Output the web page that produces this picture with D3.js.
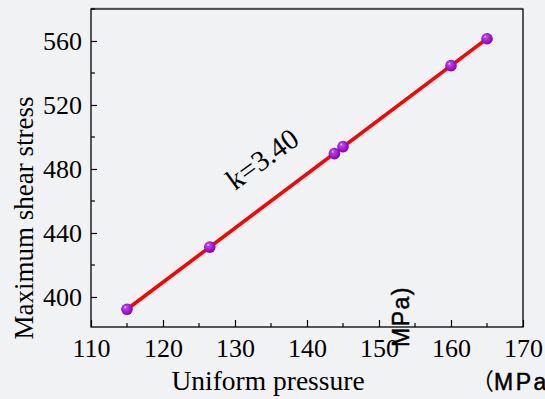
<!DOCTYPE html>
<html>
<head>
<meta charset="utf-8">
<script src="https://cdn.jsdelivr.net/npm/d3@7"></script>
<style>
  html, body { margin: 0; padding: 0; background: #f1f2f4; }
  svg { display: block; }
</style>
</head>
<body>
<svg id="chart" width="545" height="399"></svg>
<script>
// Measured points: uniform pressure (MPa) vs maximum shear stress (MPa)
const pressure = [115, 126.5, 143.8, 145, 160, 165];
const shearStress = [392.3, 431.2, 489.6, 494.0, 544.6, 561.4];

const xTicks = [110, 120, 130, 140, 150, 160, 170];
const xMinorTicks = [115, 125, 135, 145, 155, 165];
const yTicks = [400, 440, 480, 520, 560];
const yMinorTicks = [420, 460, 500, 540, 580];

const slopeLabel = "k=3.40";
const xTitle = "Uniform pressure";
const yTitle = "Maximum shear stress";
const unitOpen = "（";
const unitText = "MPa";
const unitClose = ")";

(function () {
  const svg = d3.select("#chart");
  const serif = "'Liberation Serif', 'Times New Roman', serif";
  const sans = "Arial, 'Liberation Sans', sans-serif";
  const cjk = "'Noto Sans CJK SC', sans-serif";

  const plotL = 91, plotR = 523, plotT = 9, plotB = 327;
  const x = d3.scaleLinear().domain([110, 170]).range([plotL, plotR]);
  const y = d3.scaleLinear().domain([381.25, 580]).range([plotB, plotT]);

  // sphere-like marker fill
  const defs = svg.append("defs");
  const grad = defs.append("radialGradient")
    .attr("id", "ball").attr("cx", "0.45").attr("cy", "0.45").attr("r", "0.6")
    .attr("fx", "0.35").attr("fy", "0.3");
  grad.append("stop").attr("offset", "0%").attr("stop-color", "#f8e6ff");
  grad.append("stop").attr("offset", "22%").attr("stop-color", "#bf3cf0");
  grad.append("stop").attr("offset", "70%").attr("stop-color", "#9c10d0");
  grad.append("stop").attr("offset", "100%").attr("stop-color", "#72089c");

  // faint rule above the frame
  svg.append("line")
    .attr("x1", plotL).attr("x2", plotR).attr("y1", plotT - 1.2).attr("y2", plotT - 1.2)
    .attr("stroke", "#c8c9cc").attr("stroke-width", 1);

  // x axis (ticks pointing inward)
  const xAxis = svg.append("g")
    .attr("transform", `translate(0,${plotB})`)
    .call(d3.axisBottom(x).tickValues(xTicks).tickSizeInner(-7).tickSizeOuter(0).tickFormat(d3.format("d")));
  xAxis.select(".domain").remove();
  xAxis.selectAll(".tick line").attr("stroke", "#000").attr("stroke-width", 1.2);
  xAxis.selectAll(".tick text")
    .attr("y", 30).attr("dy", 0)
    .attr("font-family", serif).attr("font-size", 26).attr("fill", "#000");
  xAxis.selectAll(".minor").data(xMinorTicks).enter().append("line")
    .attr("x1", d => x(d)).attr("x2", d => x(d)).attr("y1", 0).attr("y2", -4)
    .attr("stroke", "#000").attr("stroke-width", 1.2);

  // y axis (ticks pointing inward)
  const yAxis = svg.append("g")
    .attr("transform", `translate(${plotL},0)`)
    .call(d3.axisLeft(y).tickValues(yTicks).tickSizeInner(-6).tickSizeOuter(0).tickFormat(d3.format("d")));
  yAxis.select(".domain").remove();
  yAxis.selectAll(".tick line").attr("stroke", "#000").attr("stroke-width", 1.2);
  yAxis.selectAll(".tick text")
    .attr("x", -9).attr("dy", "0.34em")
    .attr("font-family", serif).attr("font-size", 26).attr("fill", "#000");
  yAxis.selectAll(".minor").data(yMinorTicks).enter().append("line")
    .attr("y1", d => y(d)).attr("y2", d => y(d)).attr("x1", 0).attr("x2", 4)
    .attr("stroke", "#000").attr("stroke-width", 1.2);

  // frame
  svg.append("rect")
    .attr("x", plotL).attr("y", plotT).attr("width", plotR - plotL).attr("height", plotB - plotT)
    .attr("fill", "none").attr("stroke", "#000").attr("stroke-width", 1.3);

  // least-squares fit line over the measured range
  const n = pressure.length;
  const mx = d3.mean(pressure), my = d3.mean(shearStress);
  let sxy = 0, sxx = 0;
  for (let i = 0; i < n; i++) {
    sxy += (pressure[i] - mx) * (shearStress[i] - my);
    sxx += (pressure[i] - mx) ** 2;
  }
  const slope = sxy / sxx, intercept = my - slope * mx;
  const fit = d3.extent(pressure).map(v => [v, intercept + slope * v]);
  svg.append("path")
    .datum(fit)
    .attr("d", d3.line().x(d => x(d[0])).y(d => y(d[1])))
    .attr("stroke", "#ff0000").attr("stroke-width", 3.6).attr("fill", "none");

  // markers
  svg.selectAll(".pt").data(pressure.map((p, i) => [p, shearStress[i]])).enter()
    .append("circle")
    .attr("cx", d => x(d[0])).attr("cy", d => y(d[1])).attr("r", 5.8)
    .attr("fill", "url(#ball)");

  // slope annotation
  svg.append("text")
    .attr("transform", "translate(235,191) rotate(-36)")
    .attr("font-family", serif).attr("font-size", 29).attr("fill", "#000")
    .text(slopeLabel);

  // axis titles
  svg.append("text")
    .attr("x", 268).attr("y", 390).attr("text-anchor", "middle")
    .attr("font-family", serif).attr("font-size", 27.5).attr("fill", "#000")
    .text(xTitle);
  svg.append("text")
    .attr("transform", "translate(33,218) rotate(-90)").attr("text-anchor", "middle")
    .attr("font-family", serif).attr("font-size", 27).attr("fill", "#000")
    .text(yTitle);

  // unit labels (slightly heavy sans)
  const unitH = svg.append("text")
    .attr("x", 471).attr("y", 390).attr("fill", "#000")
    .attr("stroke", "#000").attr("stroke-width", 0.5)
    .style("font-size", "23px");
  unitH.append("tspan").style("font-family", cjk).attr("stroke-width", 0).text(unitOpen);
  unitH.append("tspan").style("font-family", sans).style("letter-spacing", "2.5px")
    .text(unitText + unitClose);

  svg.append("text")
    .attr("transform", "translate(409,347) rotate(-90)")
    .style("font-family", sans).style("font-size", "23px").style("letter-spacing", "1.5px")
    .attr("fill", "#000").attr("stroke", "#000").attr("stroke-width", 0.5)
    .text(unitText + unitClose);
})();
</script>
</body>
</html>
